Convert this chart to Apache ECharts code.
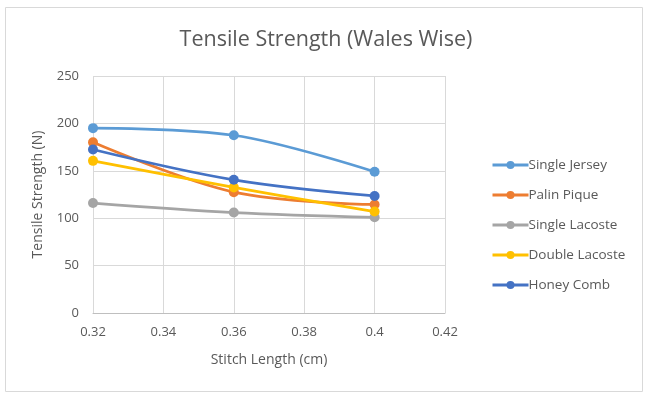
<!DOCTYPE html>
<html>
<head>
<meta charset="utf-8">
<script src="https://cdn.jsdelivr.net/npm/echarts@6/dist/echarts.min.js"></script>
<style>
  html, body { margin: 0; padding: 0; background: #fff; }
  #chart { width: 649px; height: 397px; }
</style>
</head>
<body>
<div id="chart"></div>
<script>
var stitchLength = [0.32, 0.36, 0.4];
var singleJersey = [195, 187.5, 149];
var palinPique = [180, 127.5, 114.5];
var singleLacoste = [116, 106, 101];
var doubleLacoste = [160.5, 132.5, 107];
var honeyComb = [172.5, 140.5, 123.5];

var seriesNames = ['Single Jersey', 'Palin Pique', 'Single Lacoste', 'Double Lacoste', 'Honey Comb'];
var seriesValues = [singleJersey, palinPique, singleLacoste, doubleLacoste, honeyComb];
var colors = ['#5B9BD5', '#ED7D31', '#A5A5A5', '#FFC000', '#4472C4'];

var font = '"Open Sans", Lato, sans-serif';
var textColor = '#595959';

function pairs(vals) {
  return stitchLength.map(function (x, i) { return [x, vals[i]]; });
}

var chart = echarts.init(document.getElementById('chart'));
chart.setOption({
  animation: false,
  color: colors,
  textStyle: { fontFamily: font },
  graphic: [{
    type: 'rect',
    shape: { x: 5.5, y: 7.5, width: 637, height: 384 },
    style: { fill: 'none', stroke: '#d9d9d9', lineWidth: 1 },
    silent: true
  }],
  title: {
    text: 'Tensile Strength (Wales Wise)',
    left: 321,
    textAlign: 'center',
    top: 24,
    textStyle: { fontFamily: font, fontSize: 21.5, fontWeight: 'normal', color: textColor }
  },
  legend: {
    orient: 'vertical',
    left: 486,
    top: 153,
    itemWidth: 36,
    itemHeight: 10,
    itemGap: 16,
    lineStyle: { width: 3 },
    textStyle: { fontFamily: font, fontSize: 13.5, color: textColor, padding: [0, 0, 0, -5] },
    data: seriesNames
  },
  grid: { left: 93, right: 204, top: 76, bottom: 84 },
  xAxis: {
    type: 'value',
    min: 0.32,
    max: 0.42,
    interval: 0.02,
    name: 'Stitch Length (cm)',
    nameLocation: 'middle',
    nameGap: 40,
    nameTextStyle: { fontFamily: font, fontSize: 14, color: textColor },
    axisLine: { show: true, lineStyle: { color: '#bfbfbf' } },
    axisTick: { show: false },
    axisLabel: {
      fontFamily: font, fontSize: 13, color: textColor, margin: 13,
      formatter: function (v) { return String(parseFloat(v.toFixed(2))); }
    },
    splitLine: { show: true, lineStyle: { color: '#d9d9d9' } }
  },
  yAxis: {
    type: 'value',
    min: 0,
    max: 250,
    interval: 50,
    name: 'Tensile Strength (N)',
    nameLocation: 'middle',
    nameGap: 48,
    nameTextStyle: { fontFamily: font, fontSize: 14, color: textColor },
    axisLine: { show: false },
    axisTick: { show: false },
    axisLabel: { fontFamily: font, fontSize: 13, color: textColor, margin: 14 },
    splitLine: { show: true, lineStyle: { color: '#d9d9d9' } }
  },
  series: seriesNames.map(function (name, i) {
    return {
      name: name,
      type: 'line',
      smooth: 0.35,
      data: pairs(seriesValues[i]),
      symbol: 'circle',
      symbolSize: 10,
      lineStyle: { width: 2.75, color: colors[i] },
      itemStyle: { color: colors[i] }
    };
  })
});
</script>
</body>
</html>
